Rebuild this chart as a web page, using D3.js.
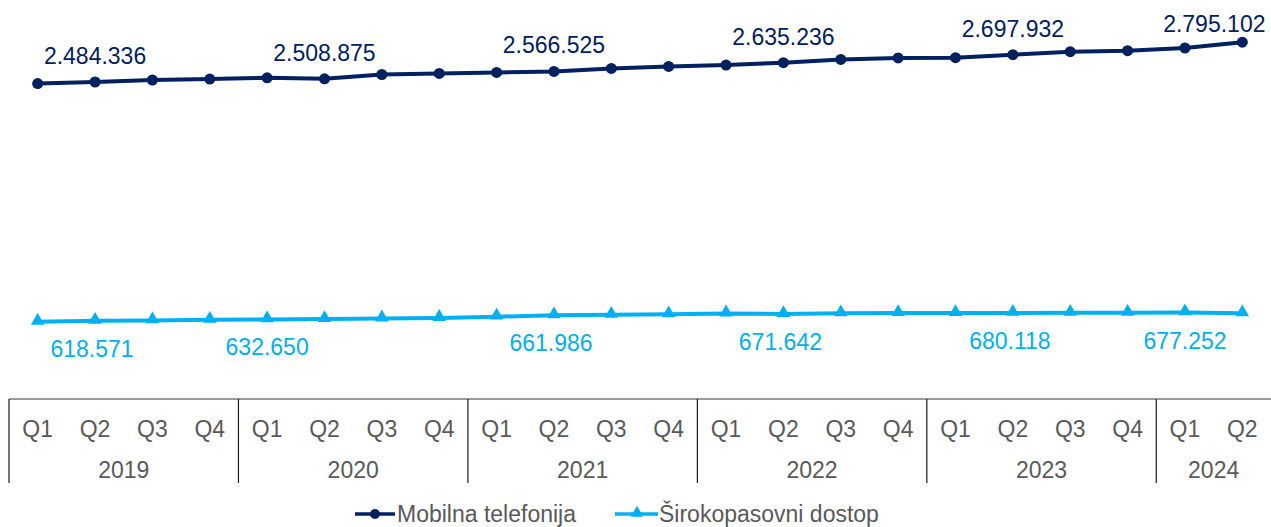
<!DOCTYPE html>
<html>
<head>
<meta charset="utf-8">
<script src="https://cdn.jsdelivr.net/npm/d3@7"></script>
<style>
  body { margin: 0; background: #fff; }
  svg { display: block; font-family: "Liberation Sans", Arial, sans-serif; }
</style>
</head>
<body>
<svg id="chart" width="1271" height="527"></svg>
<script>
const years = ["2019", "2020", "2021", "2022", "2023", "2024"];
const quartersPerYear = [4, 4, 4, 4, 4, 2];
const quarterNames = ["Q1", "Q2", "Q3", "Q4"];
const mobilna = [2472000, 2484336, 2500000, 2507000, 2517000, 2508875, 2543000, 2551000,
  2559000, 2566525, 2590000, 2606000, 2617000, 2635236, 2661000, 2672000,
  2674000, 2697932, 2721000, 2729000, 2750000, 2795102];
const sirokopasovni = [611000, 618571, 621500, 626000, 629500, 632650, 637000, 641000,
  651000, 661986, 666000, 669000, 676000, 671642, 677000, 679000,
  679500, 680118, 681000, 681500, 684000, 677252];
const seriesNames = ["Mobilna telefonija", "Širokopasovni dostop"];
const labelled = [1, 5, 9, 13, 17, 21]; // Q2 of every year

const navy = "#002060";
const cyan = "#00b0f0";
const grey = "#595959";

const W = 1271, H = 527;
const svg = d3.select("#chart");

// categories: one per quarter
const cats = [];
years.forEach((yr, i) => {
  for (let q = 0; q < quartersPerYear[i]; q++) cats.push({ key: yr + "-" + quarterNames[q], year: yr, q: quarterNames[q] });
});

const x = d3.scaleBand().domain(cats.map(d => d.key)).range([9, W]);
const y = d3.scaleLinear().domain([0, 3000000]).range([400, 16]);
const cx = i => x(cats[i].key) + x.bandwidth() / 2;

const fmt = d3.formatLocale({ decimal: ",", thousands: ".", grouping: [3], currency: ["", ""] }).format(",d");

// category axis (two rows)
const axisY = 399;
const axisG = svg.append("g").attr("transform", `translate(0,${axisY})`);
axisG.call(d3.axisBottom(x).tickSize(0).tickPadding(0).tickFormat(k => k.split("-")[1]));
axisG.select(".domain").remove();
axisG.selectAll(".tick text")
  .attr("y", 38)
  .attr("dy", 0)
  .attr("fill", grey)
  .style("font-size", "23px")
  .style("font-family", "Liberation Sans, Arial, sans-serif");

svg.append("line")
  .attr("x1", 9).attr("x2", W).attr("y1", axisY).attr("y2", axisY)
  .attr("stroke", "#7a7a7a").attr("stroke-width", 1.5);

let start = 0;
years.forEach((yr, i) => {
  const x0 = x(cats[start].key);
  const x1 = x0 + x.bandwidth() * quartersPerYear[i];
  svg.append("line")
    .attr("x1", x0).attr("x2", x0).attr("y1", axisY).attr("y2", 483)
    .attr("stroke", "#1a1a1a").attr("stroke-width", 1.2);
  svg.append("text")
    .attr("x", (x0 + x1) / 2).attr("y", 478)
    .attr("text-anchor", "middle")
    .attr("fill", grey)
    .style("font-size", "23px")
    .text(yr);
  start += quartersPerYear[i];
});

// lines
const line = d3.line().x((d, i) => cx(i)).y(d => y(d));

svg.append("path").datum(sirokopasovni)
  .attr("fill", "none").attr("stroke", cyan).attr("stroke-width", 4)
  .attr("stroke-linejoin", "round").attr("d", line);
svg.append("g").selectAll("path").data(sirokopasovni).join("path")
  .attr("d", d3.symbol(d3.symbolTriangle, 80))
  .attr("transform", (d, i) => `translate(${cx(i)},${y(d) - 1})`)
  .attr("fill", cyan);

svg.append("path").datum(mobilna)
  .attr("fill", "none").attr("stroke", navy).attr("stroke-width", 4)
  .attr("stroke-linejoin", "round").attr("d", line);
svg.append("g").selectAll("circle").data(mobilna).join("circle")
  .attr("cx", (d, i) => cx(i)).attr("cy", d => y(d)).attr("r", 5.5)
  .attr("fill", navy);

// data labels
svg.append("g").selectAll("text").data(labelled).join("text")
  .attr("x", i => i === cats.length - 1 ? cx(i) - 28 : cx(i))
  .attr("y", i => i === cats.length - 1 ? y(mobilna[i]) - 10 : y(mobilna[i]) - 18)
  .attr("text-anchor", "middle")
  .attr("fill", navy)
  .style("font-size", "23px")
  .text(i => fmt(mobilna[i]));

// light labels: 2020 and 2024 were nudged one quarter left in the source
const nudged = [5, 21];
svg.append("g").selectAll("text").data(labelled).join("text")
  .attr("x", i => nudged.includes(i) ? cx(i - 1) : cx(i) - 3)
  .attr("y", i => y(sirokopasovni[i]) + 36)
  .attr("text-anchor", "middle")
  .attr("fill", cyan)
  .style("font-size", "23px")
  .text(i => fmt(sirokopasovni[i]));

// legend
const legY = 514;
const leg = svg.append("g");
leg.append("line").attr("x1", 355).attr("x2", 395).attr("y1", legY).attr("y2", legY)
  .attr("stroke", navy).attr("stroke-width", 3.5);
leg.append("circle").attr("cx", 375).attr("cy", legY).attr("r", 5).attr("fill", navy);
leg.append("text").attr("x", 397).attr("y", legY + 8).attr("fill", grey)
  .style("font-size", "23px").text(seriesNames[0]);
leg.append("line").attr("x1", 615).attr("x2", 658).attr("y1", legY).attr("y2", legY)
  .attr("stroke", cyan).attr("stroke-width", 3.5);
leg.append("path").attr("d", d3.symbol(d3.symbolTriangle, 70))
  .attr("transform", `translate(637,${legY - 1})`).attr("fill", cyan);
leg.append("text").attr("x", 659).attr("y", legY + 8).attr("fill", grey)
  .style("font-size", "23px").text(seriesNames[1]);
</script>
</body>
</html>
